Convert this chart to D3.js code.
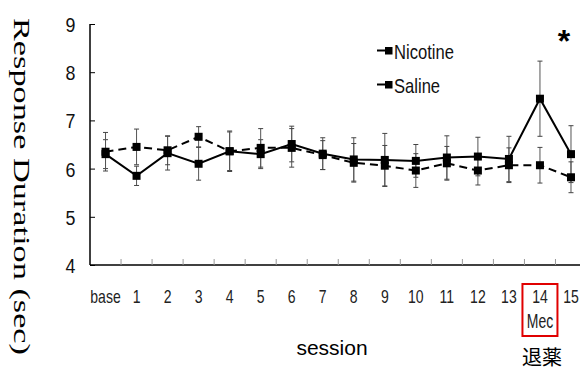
<!DOCTYPE html>
<html>
<head>
<meta charset="utf-8">
<script src="https://cdn.jsdelivr.net/npm/d3@7"></script>
<style>
  body { margin: 0; background: #fff; }
  svg { display: block; }
  .narrow { font-family: "Liberation Sans", Arial, sans-serif; }
</style>
</head>
<body>
<svg id="chart" width="580" height="370"></svg>
<script>
const sessions = ['base', '1', '2', '3', '4', '5', '6', '7', '8', '9', '10', '11', '12', '13', '14', '15'];
const nicotine = [6.30, 5.85, 6.32, 6.10, 6.36, 6.30, 6.51, 6.31, 6.19, 6.18, 6.16, 6.23, 6.25, 6.20, 7.45, 6.30];
const nicotineErr = [0.30, 0.20, 0.35, 0.34, 0.40, 0.30, 0.37, 0.33, 0.45, 0.55, 0.34, 0.45, 0.40, 0.47, 0.78, 0.59];
const saline = [6.35, 6.45, 6.38, 6.66, 6.36, 6.43, 6.43, 6.28, 6.12, 6.06, 5.96, 6.11, 5.96, 6.07, 6.07, 5.82];
const salineErr = [0.40, 0.37, 0.30, 0.21, 0.42, 0.40, 0.40, 0.30, 0.40, 0.42, 0.35, 0.35, 0.30, 0.36, 0.37, 0.32];
const yTicks = [4, 5, 6, 7, 8, 9];

const svg = d3.select('#chart');
const plotLeft = 90, plotRight = 586.5, plotTop = 24, plotBottom = 265;

const x = d3.scaleBand().domain(sessions).range([plotLeft, plotRight]).padding(0);
const y = d3.scaleLinear().domain([4, 9]).range([plotBottom, plotTop]);
const cx = d => x(d) + x.bandwidth() / 2;

// condensed look: squeeze Liberation Sans horizontally
const narrowText = (parent, tx, ty, size, sx) => parent.append('text')
  .attr('class', 'narrow')
  .attr('transform', `translate(${tx},${ty}) scale(${sx},1)`)
  .attr('font-size', size);

// y axis
const yAxis = svg.append('g')
  .attr('transform', `translate(${plotLeft},0)`)
  .call(d3.axisRight(y).tickValues(yTicks).tickSize(5).tickFormat(''));
yAxis.select('.domain').attr('stroke', '#000').attr('stroke-width', 1.5).attr('d', `M0,${plotTop}V${plotBottom}`);
yAxis.selectAll('.tick line').attr('stroke', '#000');

yTicks.forEach(t => {
  narrowText(svg, 75.5, y(t) + 8, 21, 0.85)
    .attr('text-anchor', 'end')
    .attr('fill', '#111')
    .text(t);
});

// x axis
const xAxis = svg.append('g')
  .attr('transform', `translate(0,${plotBottom})`)
  .call(d3.axisTop(x).tickSize(0).tickFormat(''));
xAxis.select('.domain').attr('stroke', '#000').attr('stroke-width', 1.5).attr('d', `M${plotLeft},0H${plotRight}`);
svg.append('g').selectAll('line')
  .data(sessions.slice(1))
  .enter()
  .append('line')
  .attr('x1', d => x(d))
  .attr('x2', d => x(d))
  .attr('y1', plotBottom - 6)
  .attr('y2', plotBottom)
  .attr('stroke', '#999');

sessions.forEach(s => {
  narrowText(svg, cx(s), 303, 18, 0.78)
    .attr('text-anchor', 'middle')
    .attr('fill', '#222')
    .text(s);
});

narrowText(svg, cx('14'), 328.3, 20, 0.7)
  .attr('text-anchor', 'middle')
  .attr('fill', '#222')
  .text('Mec');

svg.append('rect')
  .attr('x', cx('14') - 17.5)
  .attr('y', 284)
  .attr('width', 35)
  .attr('height', 52)
  .attr('fill', 'none')
  .attr('stroke', '#e00000')
  .attr('stroke-width', 2);

svg.append('text')
  .attr('x', 332)
  .attr('y', 355)
  .attr('text-anchor', 'middle')
  .attr('font-family', 'Liberation Sans, Arial, sans-serif')
  .attr('font-size', 21)
  .text('session');

svg.append('text')
  .attr('x', 542)
  .attr('y', 365)
  .attr('text-anchor', 'middle')
  .attr('font-family', '"Noto Sans CJK JP", sans-serif')
  .attr('font-size', 20)
  .text('退薬');

// y title
svg.append('text')
  .attr('transform', 'translate(14,186.5) rotate(90)')
  .attr('text-anchor', 'middle')
  .attr('font-family', '"Liberation Serif", "Times New Roman", serif')
  .attr('font-size', 24)
  .attr('textLength', 337)
  .attr('lengthAdjust', 'spacingAndGlyphs')
  .text('Response Duration (sec)');

// error bars
const series = [
  { name: 'Nicotine', values: nicotine, err: nicotineErr, dash: null },
  { name: 'Saline', values: saline, err: salineErr, dash: '8,5' }
];

series.forEach(s => {
  const g = svg.append('g');
  const rows = sessions.map((k, i) => ({ k, v: s.values[i], e: s.err[i] }));
  g.selectAll('line.bar')
    .data(rows)
    .enter()
    .append('line')
    .attr('x1', d => cx(d.k))
    .attr('x2', d => cx(d.k))
    .attr('y1', d => y(d.v + d.e))
    .attr('y2', d => y(d.v - d.e))
    .attr('stroke', '#555')
    .attr('stroke-width', 1);
  ['+', '-'].forEach(sign => {
    g.selectAll(null)
      .data(rows)
      .enter()
      .append('line')
      .attr('x1', d => cx(d.k) - 2.5)
      .attr('x2', d => cx(d.k) + 2.5)
      .attr('y1', d => y(sign === '+' ? d.v + d.e : d.v - d.e))
      .attr('y2', d => y(sign === '+' ? d.v + d.e : d.v - d.e))
      .attr('stroke', '#444')
      .attr('stroke-width', 1);
  });
});

const line = d3.line().x(d => cx(d.k)).y(d => y(d.v));

series.forEach(s => {
  const rows = sessions.map((k, i) => ({ k, v: s.values[i] }));
  svg.append('path')
    .datum(rows)
    .attr('d', line)
    .attr('fill', 'none')
    .attr('stroke', '#000')
    .attr('stroke-width', 2)
    .attr('stroke-dasharray', s.dash);
  svg.append('g').selectAll('rect')
    .data(rows)
    .enter()
    .append('rect')
    .attr('x', d => cx(d.k) - 4)
    .attr('y', d => y(d.v) - 4)
    .attr('width', 8)
    .attr('height', 8)
    .attr('fill', '#000');
});

// legend
const legend = svg.append('g');
series.forEach((s, i) => {
  const ly = 50.5 + i * 34;
  legend.append('line')
    .attr('x1', 377).attr('x2', 386)
    .attr('y1', ly).attr('y2', ly)
    .attr('stroke', '#000').attr('stroke-width', 2);
  legend.append('rect')
    .attr('x', 385).attr('y', ly - 3.5)
    .attr('width', 7.5).attr('height', 7.5)
    .attr('fill', '#000');
  narrowText(legend, 394, ly + 8, 20, 0.83)
    .attr('fill', '#111')
    .text(s.name);
});

// significance marker
svg.append('text')
  .attr('x', 564)
  .attr('y', 52)
  .attr('text-anchor', 'middle')
  .attr('font-family', 'Liberation Sans, Arial, sans-serif')
  .attr('font-weight', 'bold')
  .attr('font-size', 32)
  .text('*');
</script>
</body>
</html>
